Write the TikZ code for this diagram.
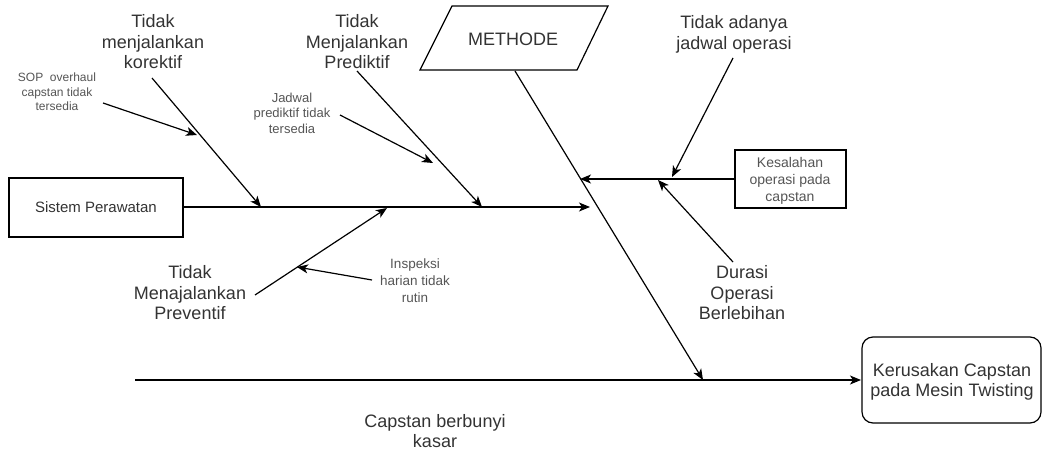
\documentclass[tikz,border=0pt]{standalone}
\usepackage{fontspec}
\setmainfont{Liberation Sans}
\usetikzlibrary{arrows.meta}
\definecolor{txtdark}{HTML}{333333}
\definecolor{txtsoft}{HTML}{555555}
\begin{document}
\begin{tikzpicture}[x=1pt,y=-1pt,
  line/.style={line width=1.2pt,draw=black},
  arr/.style={line, -{Stealth[length=11pt,width=9pt,inset=3pt]}},
  big/.style={font=\fontsize{18}{20.5}\selectfont,text=txtdark,align=center,inner sep=0pt},
  small/.style={font=\fontsize{12}{14.5}\selectfont,text=txtsoft,align=center,inner sep=0pt},
  mid/.style={font=\fontsize{14}{17}\selectfont,text=txtsoft,align=center,inner sep=0pt},
  box/.style={line,fill=white}]
\useasboundingbox (0,0) rectangle (1043,452);

% main boxes
\draw[box] (9,178) rectangle (183,237);
\node[mid,font=\fontsize{15}{17}\selectfont,text=txtdark] (sistem) at (96,207) {Sistem Perawatan};
\coordinate (sistemE) at (183,207);
\coordinate (spineTip) at (590,207);

\draw[box] (735,150) rectangle (846,208);
\node[mid] (kesalahan) at (790,181) {Kesalahan\\operasi pada\\capstan};
\coordinate (kesalahanW) at (735,179);
\coordinate (kesalahanTip) at (580,179);

\draw[box,rounded corners=11pt] (862,337) rectangle (1041,423);
\node[big] (kerusakan) at (952,382) {Kerusakan Capstan\\pada Mesin Twisting};
\coordinate (kerusakanW) at (861,380);
\coordinate (bottomStart) at (135,380);

% METHODE parallelogram
\draw[box] (452,6) -- (608,6) -- (577,70) -- (420,70) -- cycle;
\node[big] (methode) at (513,39) {METHODE};
\coordinate (methodeS) at (515,71);
\coordinate (methodeTip) at (703,380);

% category labels
\node[big] (korektif) at (153,42) {Tidak\\menjalankan\\korektif};
\node[big] (prediktif) at (357,42) {Tidak\\Menjalankan\\Prediktif};
\node[big] (preventif) at (190,293) {Tidak\\Menajalankan\\Preventif};
\node[big] (adanya) at (734,34.5) {Tidak adanya\\jadwal operasi};
\node[big] (durasi) at (742,293) {Durasi\\Operasi\\Berlebihan};
\node[big] (bunyi) at (435,431) {Capstan berbunyi\\kasar};

% cause labels
\node[small] (sop) at (57,92) {SOP~ overhaul\\capstan tidak\\tersedia};
\node[font=\fontsize{13}{15.5}\selectfont,text=txtsoft,align=center,inner sep=0pt] (jadwal) at (292,113) {Jadwal\\prediktif tidak\\tersedia};
\node[font=\fontsize{13.5}{17}\selectfont,text=txtsoft,align=center,inner sep=0pt] (inspeksi) at (415,281) {Inspeksi\\harian tidak\\rutin};

% connector end points
\coordinate (korS) at (152,78);   \coordinate (korT) at (261,207);
\coordinate (sopS) at (103,103);  \coordinate (sopT) at (197,135);
\coordinate (preS) at (357,71);   \coordinate (preT) at (482,207);
\coordinate (jadS) at (340,115);  \coordinate (jadT) at (433,163);
\coordinate (prvS) at (255,295);  \coordinate (prvT) at (387,208);
\coordinate (insS) at (372,280);  \coordinate (insT) at (297,267);
\coordinate (adaS) at (733,58);   \coordinate (adaT) at (672,177);
\coordinate (durS) at (733,262);  \coordinate (durT) at (658,180);

% connectors
\draw[arr] (sistemE) -- (spineTip);
\draw[arr] (bottomStart) -- (kerusakanW);
\draw[arr] (methodeS) -- (methodeTip);
\draw[arr] (kesalahanW) -- (kesalahanTip);
\draw[arr] (korS) -- (korT);
\draw[arr] (sopS) -- (sopT);
\draw[arr] (preS) -- (preT);
\draw[arr] (jadS) -- (jadT);
\draw[arr] (prvS) -- (prvT);
\draw[arr] (insS) -- (insT);
\draw[arr] (adaS) -- (adaT);
\draw[arr] (durS) -- (durT);
\end{tikzpicture}
\end{document}
